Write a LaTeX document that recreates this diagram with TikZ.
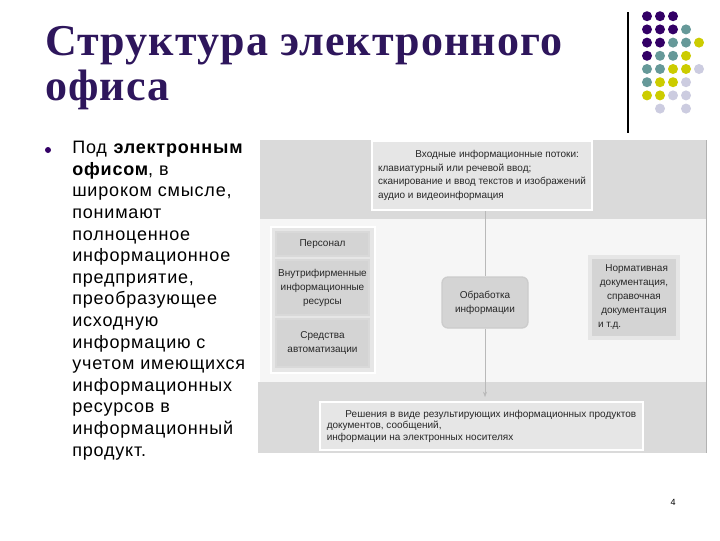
\documentclass[tikz,border=0pt]{standalone}
\usepackage{fontspec}
\setmainfont{Liberation Sans}
\newfontfamily\titlefont[LetterSpace=2.5]{Liberation Serif}
\newfontfamily\bodyfont[LetterSpace=4.5]{Liberation Sans}
\usetikzlibrary{positioning,arrows.meta}

\definecolor{titlepurple}{RGB}{46,22,92}
\definecolor{dotpurple}{RGB}{51,0,102}
\definecolor{dotteal}{RGB}{102,153,153}
\definecolor{dotyellow}{RGB}{204,204,0}
\definecolor{dotlight}{RGB}{204,204,224}
\definecolor{bandgray}{RGB}{218,218,218}
\definecolor{midgray}{RGB}{246,246,246}
\definecolor{boxgray}{RGB}{230,230,230}
\definecolor{cellgray}{RGB}{212,212,212}
\definecolor{textgray}{RGB}{40,40,40}

\begin{document}
\begin{tikzpicture}[x=0.75pt,y=0.75pt,yscale=-1,xscale=1,
  infobox/.style={draw=white,line width=1.5pt,fill=boxgray,inner sep=0pt,
    text=textgray,font=\fontsize{7.5}{10.3}\selectfont},
  cellbox/.style={draw=white!85!black,line width=1pt,fill=cellgray,inner sep=0pt,
    minimum width=69.75pt,text=textgray,align=center,
    font=\fontsize{7.5}{10.5}\selectfont},
  dot/.style={circle,inner sep=0pt,minimum size=7.5pt}]
%set picture to the slide size
\useasboundingbox[fill=white] (0,0) rectangle (720,540);

%Title (anchored on its last line)
\node (title) [anchor=base west,inner sep=0pt,align=left,text=titlepurple,
  font=\titlefont\bfseries\fontsize{33}{33.75}\selectfont] at (45,100)
  {Структура электронного\\офиса};

%Bullet and text (anchored on its last line)
\node (bullet) [circle,fill=dotpurple,inner sep=0pt,minimum size=4.5pt] at (48,150) {};
\node (bodytext) [anchor=base west,inner sep=0pt,align=left,
  font=\bodyfont\fontsize{13.5}{16.2}\selectfont] at (72,456)
  {Под \textbf{электронным}\\\textbf{офисом}, в\\широком смысле,\\понимают\\полноценное\\информационное\\предприятие,\\преобразующее\\исходную\\информацию с\\учетом имеющихся\\информационных\\ресурсов в\\информационный\\продукт.};

%Decoration: line and dots
\draw [line width=1pt] (628,12) -- (628,133);
\foreach \c/\r/\col in {1/1/dotpurple,2/1/dotpurple,3/1/dotpurple,
  1/2/dotpurple,2/2/dotpurple,3/2/dotpurple,4/2/dotteal,
  1/3/dotpurple,2/3/dotpurple,3/3/dotteal,4/3/dotteal,5/3/dotyellow,
  1/4/dotpurple,2/4/dotteal,3/4/dotteal,4/4/dotyellow,
  1/5/dotteal,2/5/dotteal,3/5/dotyellow,4/5/dotyellow,5/5/dotlight,
  1/6/dotteal,2/6/dotyellow,3/6/dotyellow,4/6/dotlight,
  1/7/dotyellow,2/7/dotyellow,3/7/dotlight,4/7/dotlight,
  2/8/dotlight,4/8/dotlight}
  \node [dot,fill=\col] at ({634+13*\c},{3+13.2*\r}) {};

%Diagram background
\fill [bandgray] (260,140) rectangle (706,219);
\fill [midgray] (260,219) rectangle (706,382);
\fill [bandgray] (258,382) rectangle (706,453);
\draw [gray!60] (706,140) -- (706,453);

%Input flows
\node (inflow) [infobox,minimum width=165pt,minimum height=51.75pt,align=left] at (482,175.5)
  {\hspace{28pt}Входные информационные потоки:\\клавиатурный или речевой ввод;\\сканирование и ввод текстов и изображений\\аудио и видеоинформация};

%Resources group
\node (resgroup) [draw=white,line width=1.5pt,fill=boxgray,minimum width=78pt,
  minimum height=109.5pt] at (323,300) {};
\node (staff) [cellbox,minimum height=18pt] at (322.5,244) {Персонал};
\node (inres) [cellbox,minimum height=41.25pt] at (322.5,287.5)
  {Внутрифирменные\\информационные\\ресурсы};
\node (autotools) [cellbox,minimum height=36pt] at (322.5,343)
  {Средства\\автоматизации};

%Processing
\node (proc) [draw=white!80!black,line width=1pt,fill=cellgray,rounded corners=4.5pt,
  minimum width=64.5pt,minimum height=38.25pt,align=center,text=textgray,
  font=\fontsize{7.5}{10.5}\selectfont] at (485,302.5)
  {Обработка\\информации};

%Normative docs
\node (normdocs) [draw=boxgray,line width=3pt,fill=cellgray,minimum width=66pt,
  minimum height=60.75pt,align=center,text=textgray,
  font=\fontsize{7.5}{10.5}\selectfont] at (634,297.5)
  {\hspace{4pt}Нормативная\\документация,\\справочная\\документация\\\makebox[54pt][l]{и т.д.}};

%Output
\node (outres) [infobox,minimum width=242.25pt,minimum height=36pt,align=left,
  font=\fontsize{7.5}{8.6}\selectfont] at (481.5,426)
  {\hspace{14pt}Решения в виде результирующих информационных продуктов\\документов, сообщений,\\информации на электронных носителях};

%Connectors
\coordinate (arrowend) at (485,397);
\draw [gray!55] (proc.north |- inflow.south) -- (proc.north);
\draw [gray!55,-{Stealth[length=4pt,width=3pt]}] (proc.south) -- (arrowend);

%Page number
\node (pagenum) [font=\fontsize{6.75}{8}\selectfont] at (673,502) {4};
\end{tikzpicture}
\end{document}
